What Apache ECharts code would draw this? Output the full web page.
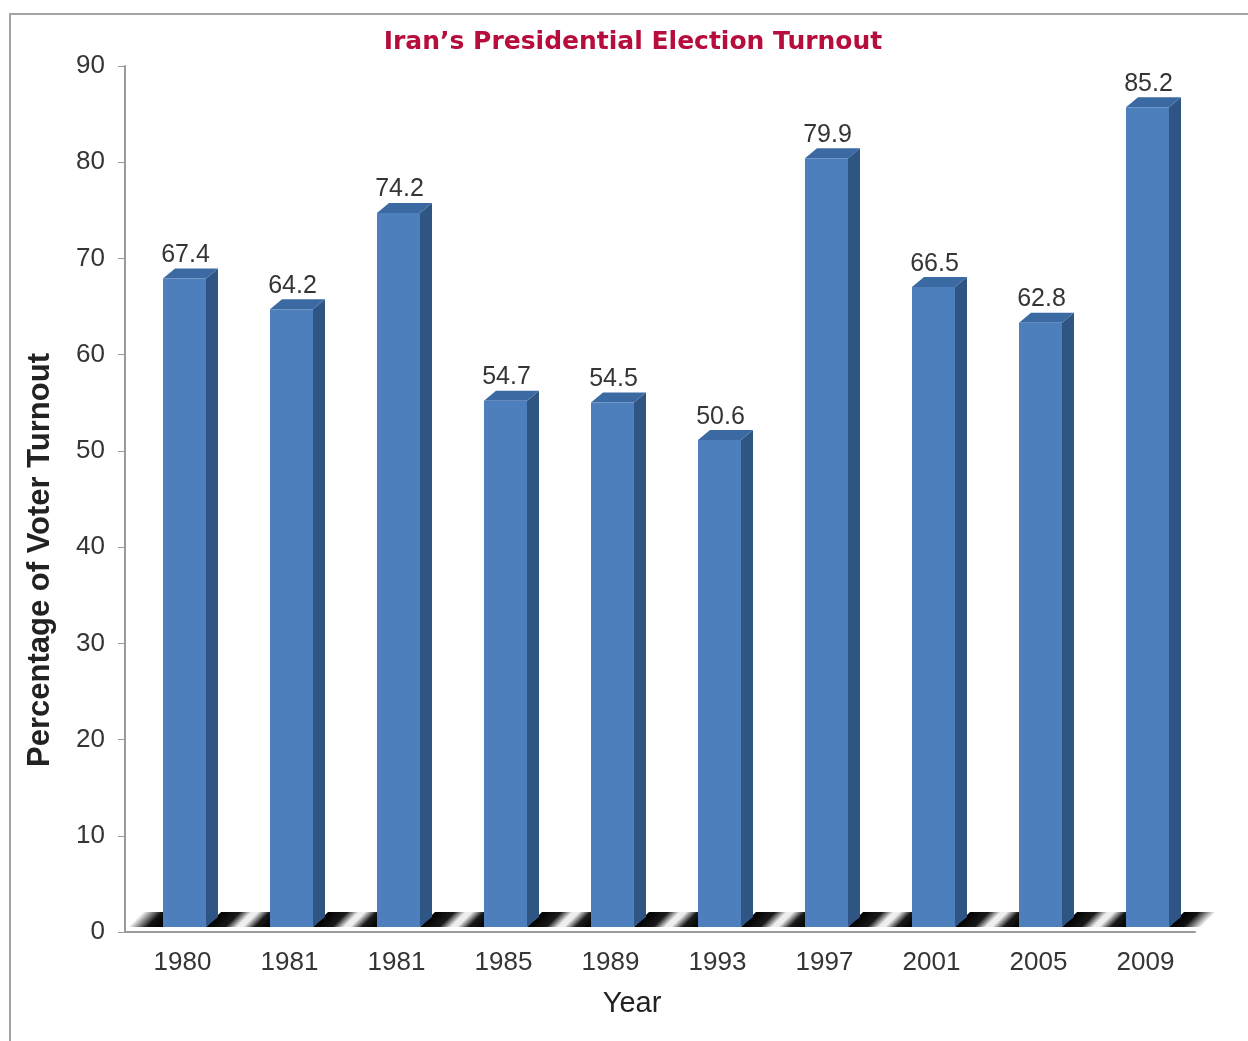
<!DOCTYPE html>
<html><head><meta charset="utf-8">
<script src="https://cdn.jsdelivr.net/npm/echarts@6/dist/echarts.min.js"></script>
<style>html,body{margin:0;padding:0;background:#fff}#c{width:1248px;height:1041px}</style>
</head><body><div id="c"></div>
<script>
// ---- data ----
const years = ['1980','1981','1981','1985','1989','1993','1997','2001','2005','2009'];
const turnout = [67.4, 64.2, 74.2, 54.7, 54.5, 50.6, 79.9, 66.5, 62.8, 85.2];
const yMin = 0, yMax = 90, yInterval = 10;
const chartTitle = 'Iran\u2019s Presidential Election Turnout';
const xTitle = 'Year';
const yTitle = 'Percentage of Voter Turnout';

// ---- styling ----
const FRONT = '#4e7fbd', SIDE = '#2f5585', TOP = '#3b6aa3';
const SX = 6, SY = -5, HW = 21.5, DX = 12, DY = 10; // 3D projection offsets
const FS = 15, FD = 15; // floor slant
const TXT = '#353535', FONT = 'Liberation Sans';

const barData = turnout.map((v, i) => [i, v]);

function renderBar(params, api) {
  const i = api.value(0), v = api.value(1);
  const top = api.coord([i, v]);
  const base = api.coord([i, 0]);
  const cx = top[0] + SX;
  const yt = top[1] + SY, yb = base[1] + SY;
  const xl = cx - HW, xr = cx + HW;
  return {
    type: 'group', children: [
      { type: 'polygon', shape: { points: [[xr, yt], [xr + DX, yt - DY], [xr + DX, yb - DY], [xr, yb]] }, style: { fill: SIDE } },
      { type: 'polygon', shape: { points: [[xl, yt], [xr, yt], [xr + DX, yt - DY], [xl + DX, yt - DY]] }, style: { fill: TOP } },
      { type: 'rect', shape: { x: xl, y: yt, width: 2 * HW, height: yb - yt }, style: { fill: FRONT } },
      { type: 'text', x: cx + 1, y: yt - DY - 1, style: { text: v.toFixed(1), fill: TXT, font: '25px "' + FONT + '"', align: 'center', verticalAlign: 'bottom' } }
    ]
  };
}

function floorPoly(xa, xb, yb, stops) {
  const L = (xb - xa) / 2;
  return {
    type: 'polygon',
    shape: { points: [[xa, yb], [xb, yb], [xb + FS, yb - FD], [xa + FS, yb - FD]] },
    style: {
      fill: new echarts.graphic.LinearGradient(xa, yb, xa + L, yb + L, stops, true)
    }
  };
}

function renderFloor(params, api) {
  const i = api.value(0);
  const n = years.length;
  const base = api.coord([i, 0]);
  const band = api.size([1, 0])[0];
  const cx = base[0] + SX, yb = base[1] + SY;
  const children = [];
  const gapStops = [
    { offset: 0, color: '#000' }, { offset: 0.3, color: '#1a1a1a' },
    { offset: 0.48, color: '#eeeeee' }, { offset: 0.58, color: '#eeeeee' },
    { offset: 0.76, color: '#1a1a1a' }, { offset: 1, color: '#000' }
  ];
  if (i === 0) {
    children.push(floorPoly(base[0] - band / 2 + 3, cx - HW, yb, [
      { offset: 0, color: '#ffffff' }, { offset: 0.55, color: '#111' }, { offset: 1, color: '#000' }
    ]));
  }
  if (i < n - 1) {
    children.push(floorPoly(cx + HW, cx + band - HW, yb, gapStops));
  } else {
    children.push(floorPoly(cx + HW, base[0] + band / 2 + 6, yb, [
      { offset: 0, color: '#000' }, { offset: 0.45, color: '#111' }, { offset: 1, color: '#ffffff' }
    ]));
  }
  return { type: 'group', children };
}

const chart = echarts.init(document.getElementById('c'));
chart.setOption({
  animation: false,
  backgroundColor: '#fff',
  grid: { left: 125, right: 53, top: 66, bottom: 109, outerBoundsMode: 'none' },
  xAxis: {
    type: 'category', data: years, boundaryGap: true,
    axisLine: { lineStyle: { color: '#9a9a9a', width: 2 } },
    axisTick: { show: false },
    axisLabel: { color: TXT, fontSize: 26, fontFamily: FONT, margin: 18, padding: [0, 0, 0, 8] }
  },
  yAxis: {
    type: 'value', min: yMin, max: yMax, interval: yInterval,
    axisLine: { show: true, lineStyle: { color: '#9a9a9a', width: 2 } },
    axisTick: { show: true, length: 7, lineStyle: { color: '#9a9a9a', width: 1 } },
    splitLine: { show: false },
    axisLabel: { color: TXT, fontSize: 26, fontFamily: FONT, margin: 20 }
  },
  series: [
    { type: 'custom', name: 'floor', data: barData, encode: { x: 0, y: 1 }, renderItem: renderFloor, z: 1, silent: true },
    { type: 'custom', name: 'turnout', data: barData, encode: { x: 0, y: 1 }, renderItem: renderBar, z: 2 }
  ],
  graphic: [
    { type: 'rect', x: 10, y: 14, shape: { x: 0, y: 0, width: 1300, height: 1100 }, style: { fill: 'none', stroke: '#a3a3a3', lineWidth: 2 }, z: 0, silent: true },
    { type: 'text', x: 633, y: 42, style: { text: chartTitle, fill: '#b70d3c', font: 'bold 25px "DejaVu Sans"', align: 'center', verticalAlign: 'middle' } },
    { type: 'text', x: 632, y: 1004, style: { text: xTitle, fill: '#222', font: '29px "' + FONT + '"', align: 'center', verticalAlign: 'middle' } },
    { type: 'text', x: 40, y: 560, rotation: Math.PI / 2, style: { text: yTitle, fill: '#222', font: 'bold 31px "' + FONT + '"', align: 'center', verticalAlign: 'middle' } }
  ]
});
</script>
</body></html>
